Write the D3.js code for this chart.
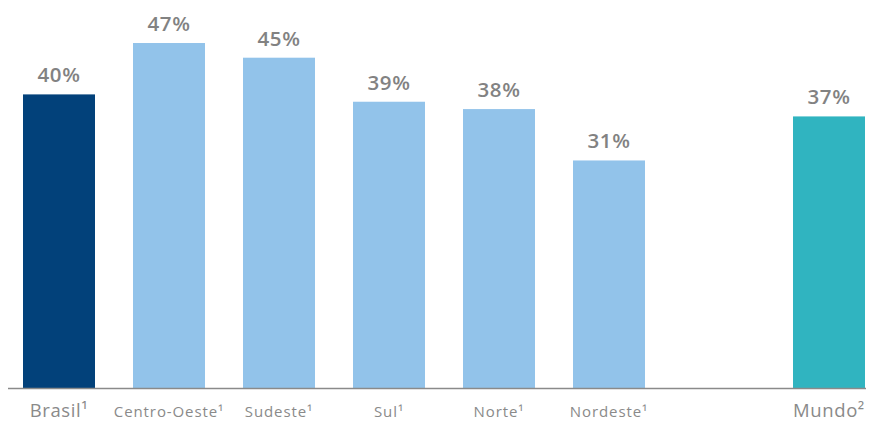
<!DOCTYPE html>
<html>
<head>
<meta charset="utf-8">
<script src="https://cdn.jsdelivr.net/npm/d3@7"></script>
<style>
  body { margin: 0; background: #fff; }
  svg { display: block; font-family: "Open Sans", "Noto Sans", sans-serif; }
</style>
</head>
<body>
<div id="chart"></div>
<script>
// categorias (slot vazio entre Nordeste e Mundo)
const categories = ["Brasil", "Centro-Oeste", "Sudeste", "Sul", "Norte", "Nordeste", "", "Mundo"]
const labels = ["Brasil¹", "Centro-Oeste¹", "Sudeste¹", "Sul¹", "Norte¹", "Nordeste¹", "", "Mundo²"]
const values = [40, 47, 45, 39, 38, 31, null, 37]
const groups = ["brasil", "regiao", "regiao", "regiao", "regiao", "regiao", "", "mundo"]

const colors = { brasil: "#02417a", regiao: "#92c3ea", mundo: "#30b4c0" }

const width = 872, height = 421
const baseY = 388

const svg = d3.select("#chart")
  .append("svg")
    .attr("width", width)
    .attr("height", height)

const x = d3.scaleBand()
  .domain(categories)
  .range([23, 865])
  .paddingInner(0.3455)
  .paddingOuter(0)

const y = d3.scaleLinear()
  .domain([0, 50])
  .range([baseY, 21])

const data = categories.map((c, i) => ({ cat: c, label: labels[i], value: values[i], group: groups[i] }))
  .filter(d => d.value != null)

// barras
svg.selectAll("rect.bar")
  .data(data)
  .join("rect")
    .attr("class", "bar")
    .attr("x", d => x(d.cat))
    .attr("y", d => y(d.value))
    .attr("width", x.bandwidth())
    .attr("height", d => y(0) - y(d.value))
    .attr("fill", d => colors[d.group])

// linha de base
svg.append("line")
  .attr("x1", 8)
  .attr("x2", 866)
  .attr("y1", baseY + 0.5)
  .attr("y2", baseY + 0.5)
  .attr("stroke", "#8a8a8a")
  .attr("stroke-width", 1.5)

// valores
svg.selectAll("text.val")
  .data(data)
  .join("text")
    .attr("class", "val")
    .attr("x", d => x(d.cat) + x.bandwidth() / 2)
    .attr("y", d => y(d.value) - 12)
    .attr("text-anchor", "middle")
    .attr("fill", "#828282")
    .attr("font-size", 20.5)
    .attr("font-weight", 600)
    .attr("letter-spacing", 0.6)
    .text(d => d.value + "%")

// rótulos das categorias
svg.selectAll("text.cat")
  .data(data)
  .join("text")
    .attr("class", "cat")
    .attr("x", d => x(d.cat) + x.bandwidth() / 2)
    .attr("y", 417)
    .attr("text-anchor", "middle")
    .attr("fill", "#8a8a8a")
    .attr("font-size", d => d.group === "regiao" ? 15 : 18.5)
    .attr("letter-spacing", d => d.group === "regiao" ? 0.9 : 0.6)
    .text(d => d.label)
</script>
</body>
</html>
